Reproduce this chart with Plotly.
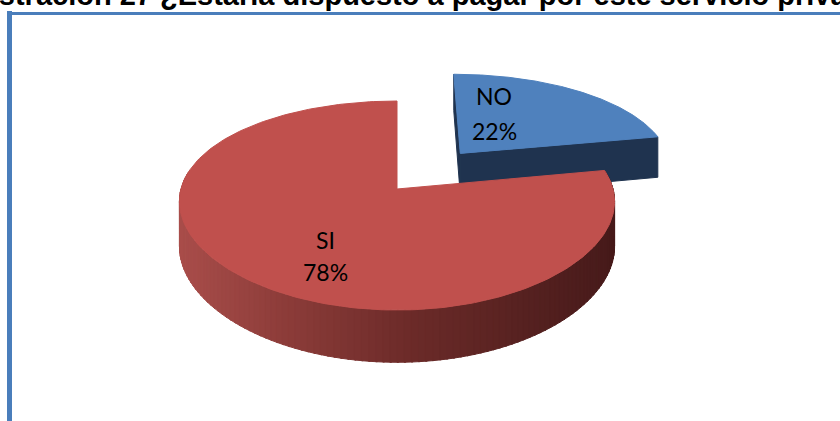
import numpy as np
import plotly.graph_objects as go

# ---- data -------------------------------------------------------------
labels = ["NO", "SI"]
values = [22, 78]
explode = [0.48, 0.0]                    # radial offset, in pie radii
top_colors = ["#4F81BD", "#C0504D"]
side_colors = ["#1F334F", None]          # None -> shaded wall gradient
title_text = "Ilustración 27 ¿Estaría dispuesto a pagar por este servicio privado?"

# ---- page & projection ------------------------------------------------
W, H = 840, 421
CX, CY = 397.0, 189.0      # page position of the pie centre
BX, AY = 216.0, 101.9      # horizontal / depth scale of the unit disk
KX, KY = 0.12, 0.158       # perspective strength (horizontal / vertical)
DEPTH = 44.0               # pie thickness in px (at the centre plane)


def project(x, z, h=0.0):
    """Unit-disk point (x right, z away from viewer) -> page px; h=1 is the bottom face."""
    x = np.asarray(x, dtype=float)
    z = np.asarray(z, dtype=float)
    sx = 1.0 / (1.0 + KX * z)
    sy = 1.0 / (1.0 + KY * z)
    return CX + BX * x * sx, CY - AY * z * sy + DEPTH * h * sy


def wall_color(t):
    stops = [(0.0, (170, 78, 75)), (0.25, (140, 60, 57)),
             (0.55, (106, 42, 40)), (1.0, (70, 26, 26))]
    t = min(max(t, 0.0), 1.0)
    for (t0, c0), (t1, c1) in zip(stops[:-1], stops[1:]):
        if t <= t1:
            f = (t - t0) / (t1 - t0)
            c = [round(a + (b - a) * f) for a, b in zip(c0, c1)]
            return "rgb({},{},{})".format(*c)
    return "rgb({},{},{})".format(*stops[-1][1])


def poly(xs, ys, color):
    return go.Scatter(x=list(xs), y=list(ys), mode="lines", fill="toself",
                      fillcolor=color, line=dict(color=color, width=1),
                      hoverinfo="skip", showlegend=False)


total = float(sum(values))
fig = go.Figure()

# slice angles: first slice starts at 12 o'clock, going clockwise
slices = []
start = 90.0
for lab, val, ex, ctop, cside in zip(labels, values, explode, top_colors, side_colors):
    sweep = 360.0 * val / total
    a0, a1 = start, start - sweep
    mid = np.radians((a0 + a1) / 2.0)
    ox, oz = ex * np.cos(mid), ex * np.sin(mid)
    slices.append(dict(label=lab, value=val, a0=a0, a1=a1, ox=ox, oz=oz,
                       top=ctop, side=cside))
    start = a1

# draw the slice farthest from the viewer first
slices.sort(key=lambda s: -s["oz"])

for s in slices:
    ox, oz = s["ox"], s["oz"]
    ang = np.radians(np.linspace(s["a0"], s["a1"], 240))
    rx, rz = ox + np.cos(ang), oz + np.sin(ang)

    if s["side"] is not None:
        # flat radial cut faces
        for a in (s["a0"], s["a1"]):
            ar = np.radians(a)
            ex_, ez_ = ox + np.cos(ar), oz + np.sin(ar)
            px_t, py_t = project([ox, ex_], [oz, ez_], 0.0)
            px_b, py_b = project([ex_, ox], [ez_, oz], 1.0)
            fig.add_trace(poly(np.r_[px_t, px_b, px_t[0]],
                               np.r_[py_t, py_b, py_t[0]], s["side"]))
    else:
        # curved outer wall facing the viewer, shaded in strips
        lo, hi = max(s["a1"], -190.0), min(s["a0"], 10.0)
        edges = np.linspace(lo, hi, 121)
        xl, _ = project(ox - 1.0, oz - KX, 0.0)
        xr, _ = project(ox + 1.0, oz - KX, 0.0)
        for e0, e1 in zip(edges[:-1], edges[1:]):
            aa = np.radians(np.linspace(e0, e1 + 0.4, 4))
            wx, wz = ox + np.cos(aa), oz + np.sin(aa)
            tx, ty = project(wx, wz, 0.0)
            bx, by = project(wx[::-1], wz[::-1], 1.0)
            t = (tx.mean() - xl) / (xr - xl)
            fig.add_trace(poly(np.r_[tx, bx, tx[0]], np.r_[ty, by, ty[0]],
                               wall_color(t)))

    # top face
    tx, ty = project(np.r_[ox, rx, ox], np.r_[oz, rz, oz], 0.0)
    fig.add_trace(poly(tx, ty, s["top"]))

# ---- data labels ------------------------------------------------------
label_pos = {"NO": (494, 96, 130.5), "SI": (325, 240, 271.5)}
annotations = []
for lab, val in zip(labels, values):
    lx, ly1, ly2 = label_pos[lab]
    pct = round(100.0 * val / total)
    for txt, ly in ((lab, ly1), (f"{pct}%", ly2)):
        annotations.append(dict(x=lx, y=ly, xref="x", yref="y", text=txt,
                                showarrow=False, xanchor="center", yanchor="middle",
                                font=dict(family="Lato, Carlito, sans-serif",
                                          size=23, color="#000000")))

# chart title, running past both page edges (paper coords so it is not culled)
annotations.append(dict(x=433 / W, y=1 + 5.0 / H, xref="paper", yref="paper",
                        text=f"<b>{title_text}</b>",
                        showarrow=False, xanchor="center", yanchor="middle",
                        font=dict(family="Arial, Liberation Sans, sans-serif",
                                  size=29, color="#000000")))

# chart-area border
frame_color = "#4A7EBB"
shapes = [
    dict(type="line", xref="x", yref="y", x0=9.5, x1=9.5, y0=11, y1=440,
         line=dict(color=frame_color, width=5)),
    dict(type="line", xref="x", yref="y", x0=7, x1=900, y0=13.5, y1=13.5,
         line=dict(color=frame_color, width=3)),
]

fig.update_layout(
    width=W, height=H,
    margin=dict(l=0, r=0, t=0, b=0),
    paper_bgcolor="white", plot_bgcolor="white",
    xaxis=dict(range=[0, W], visible=False, fixedrange=True),
    yaxis=dict(range=[H, 0], visible=False, fixedrange=True),
    annotations=annotations, shapes=shapes,
    showlegend=False,
)

fig.write_html("out.html", config={"displayModeBar": False})
